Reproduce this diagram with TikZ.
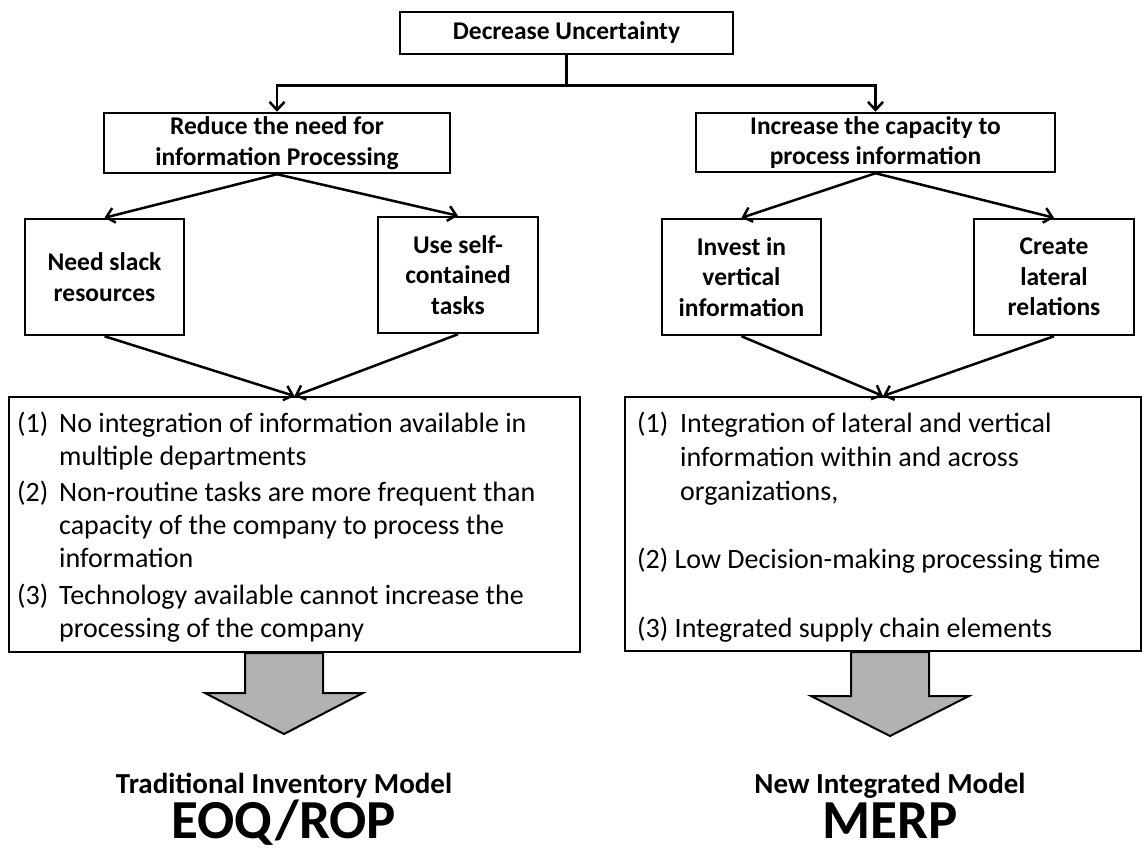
\documentclass[tikz,border=0pt]{standalone}
\usepackage{fontspec}
\setmainfont{Carlito}
\usetikzlibrary{arrows.meta}

\begin{document}
\begin{tikzpicture}[x=1pt,y=-1pt,
  cbox/.style={draw,line width=2.5pt,align=center,inner sep=0pt,
    font=\fontsize{25.5}{30.5}\selectfont\bfseries},
  conn/.style={line width=2.5pt,-{Straight Barb[length=8pt,width=15pt]}},
  listbox/.style={draw,line width=2pt,inner sep=0pt},
  listtext/.style={inner sep=0pt,anchor=base west},
  title/.style={anchor=base,inner sep=0pt,font=\fontsize{29}{33}\selectfont\bfseries},
  bigname/.style={anchor=base,inner sep=0pt,font=\fontsize{55}{60}\selectfont\bfseries},
  blockarrow/.style={fill=black!30,draw,line width=2pt,line join=miter}]
\useasboundingbox (0,0) rectangle (1148,854);

\node[cbox,minimum width=333pt,minimum height=42pt] (top) at (566.5,33) {Decrease Uncertainty};
\node[cbox,minimum width=346pt,minimum height=60pt] (reduce) at (277,143) {Reduce the need for\\information Processing};
\node[cbox,minimum width=359pt,minimum height=59pt] (capacity) at (875.5,142.5) {Increase the capacity to\\process information};

\node[cbox,minimum width=159pt,minimum height=116pt] (slack) at (104.5,277) {Need slack\\resources};
\node[cbox,minimum width=160pt,minimum height=116pt] (selftask) at (458,275) {Use self-\\contained\\tasks};
\node[cbox,minimum width=159pt,minimum height=116pt] (invest) at (741.5,277) {Invest in\\vertical\\information};
\node[cbox,minimum width=160pt,minimum height=116pt] (lateral) at (1054,277) {Create\\lateral\\relations};

\node[listbox,minimum width=571pt,minimum height=255pt] (lbox) at (294.5,524.5) {};
\node[listbox,minimum width=516pt,minimum height=254pt] (rbox) at (883,524) {};

\node[listtext] (ltext) at (17,432) {\fontsize{28}{33}\selectfont
  \begin{tabular}[t]{@{}l@{}l@{}}
  \makebox[42pt][l]{(1)} & No integration of information available in\\
   & multiple departments\\[3.5pt]
  (2) & Non-routine tasks are more frequent than\\
   & capacity of the company to process the\\
   & information\\[3.5pt]
  (3) & Technology available cannot increase the\\
   & processing of the company
  \end{tabular}};
\node[listtext] (rtext) at (637,432) {\fontsize{28}{34.2}\selectfont
  \begin{tabular}[t]{@{}l@{}l@{}}
  \makebox[43pt][l]{(1)} & Integration of lateral and vertical\\
   & information within and across\\
   & organizations,\\
   & \\
  \multicolumn{2}{@{}l@{}}{(2) Low Decision-making processing time}\\
   & \\
  \multicolumn{2}{@{}l@{}}{(3) Integrated supply chain elements}
  \end{tabular}};

\node[title] (trad) at (284,793) {Traditional Inventory Model};
\node[bigname] (eoq) at (284,838) {EOQ/ROP};
\node[title] (newmodel) at (890,793) {New Integrated Model};
\node[bigname] (merp) at (890,838) {MERP};

\draw[conn] (top.south) -- ++(0,30) -| (reduce.north);
\draw[conn] (top.south) -- ++(0,30) -| (capacity.north);
\draw[conn] (reduce.south) -- (slack.north);
\draw[conn] (reduce.south) -- (selftask.north);
\draw[conn] (capacity.south) -- (invest.north);
\draw[conn] (capacity.south) -- (lateral.north);
\draw[conn] (slack.south) -- (lbox.north);
\draw[conn] (selftask.south) -- (lbox.north);
\draw[conn] (invest.south) -- (rbox.north);
\draw[conn] (lateral.south) -- (rbox.north);

\coordinate (larr) at (trad.north |- lbox.south);
\coordinate (rarr) at (newmodel.north |- rbox.south);
\filldraw[blockarrow] ([xshift=-39pt]larr) -- ++(0,40) -- ++(-40,0) -- ++(79,41) -- ++(79,-41) -- ++(-40,0) -- ++(0,-40) -- cycle;
\filldraw[blockarrow] ([xshift=-39pt]rarr) -- ++(0,44) -- ++(-40,0) -- ++(79,40) -- ++(79,-40) -- ++(-40,0) -- ++(0,-44) -- cycle;
\end{tikzpicture}
\end{document}
